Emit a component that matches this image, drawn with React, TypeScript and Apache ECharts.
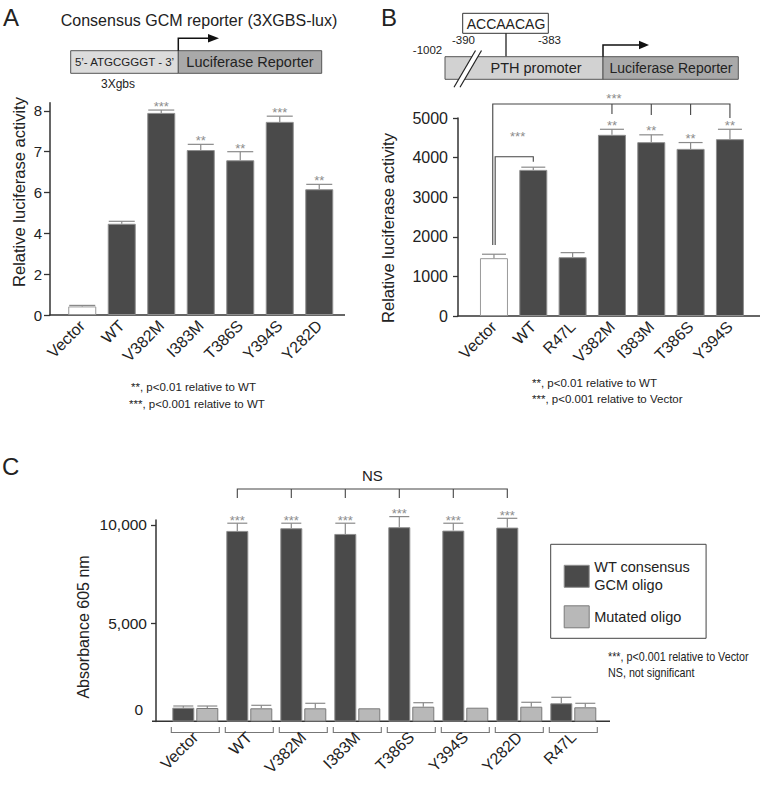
import React, { useEffect, useRef } from "react";
import * as echarts from "echarts";

const FONT = "'Liberation Sans', Arial, Helvetica, sans-serif";

// ---------- Panel A: Consensus GCM reporter ----------
const catsA = ["Vector", "WT", "V382M", "I383M", "T386S", "Y394S", "Y282D"];
const valsA = [0.42, 4.47, 7.95, 7.04, 6.79, 7.73, 6.08];
const errA = [0.05, 0.12, 0.07, 0.14, 0.21, 0.14, 0.12];
const starsA = ["", "", "***", "**", "**", "***", "**"];
const ticksA = [0, 2, 4, 6, 7, 8];

// ---------- Panel B: PTH promoter reporter ----------
const catsB = ["Vector", "WT", "R47L", "V382M", "I383M", "T386S", "Y394S"];
const valsB = [1460, 3690, 1485, 4575, 4390, 4220, 4465];
const errB = [100, 68, 115, 140, 185, 160, 250];
const starsB = ["", "", "", "**", "**", "**", "**"];

// ---------- Panel C: absorbance ----------
const catsC = ["Vector", "WT", "V382M", "I383M", "T386S", "Y394S", "Y282D", "R47L"];
const nameWT = "WT consensus\nGCM oligo";
const nameMut = "Mutated oligo";
const wtC = [707, 9695, 9832, 9542, 9883, 9710, 9863, 931];
const wtErrC = [86, 392, 255, 545, 539, 376, 473, 305];
const mutC = [692, 676, 676, 676, 758, 707, 758, 727];
const mutErrC = [100, 153, 255, 0, 203, 0, 224, 204];
const starsC = ["", "***", "***", "***", "***", "***", "***", ""];
const ticksC = [5000, 10000];

// piecewise (broken) scale of panel A: 0-6 compressed by 2, 6-8 full
const toA = (v: number) => (v <= 6 ? v / 2 : 3 + (v - 6));
const fromA = (d: number) => (d <= 3 ? d * 2 : 6 + (d - 3));

const DARK = "#4a4a4a";
const DARK_BORDER = "#8e8e8e";
const LIGHT = "#b8b8b8";
const LIGHT_BORDER = "#7a7a7a";
const ERR = "#8a8a8a";
const INK = "#222";
const STAR = "#8c8c8c";

function errSeries(
  xi: number,
  tops: number[],
  vals: number[],
  stars: string[],
  offset: number,
  capW: number,
  starGap: number
) {
  return {
    type: "custom",
    xAxisIndex: xi,
    yAxisIndex: xi,
    z: 5,
    silent: true,
    data: tops.map((t, i) => [i, t, vals[i]]),
    renderItem: (params: any, api: any) => {
      const i = api.value(0);
      const t = api.value(1);
      const v = api.value(2);
      const top = api.coord([i, t]);
      const base = api.coord([i, v]);
      const x = top[0] + offset;
      const children: any[] = [];
      if (t > v) {
        children.push({
          type: "line",
          shape: { x1: x, y1: base[1], x2: x, y2: top[1] },
          style: { stroke: ERR, lineWidth: 1.2 },
        });
        children.push({
          type: "line",
          shape: { x1: x - capW / 2, y1: top[1], x2: x + capW / 2, y2: top[1] },
          style: { stroke: ERR, lineWidth: 1.2 },
        });
      }
      const s = stars[params.dataIndex];
      if (s) {
        children.push({
          type: "text",
          x,
          y: top[1] - starGap,
          style: { text: s, fill: STAR, font: `13px ${FONT}`, align: "center", verticalAlign: "middle" },
        });
      }
      return { type: "group", children };
    },
  };
}

const txt = (
  text: string,
  x: number,
  y: number,
  size: number,
  align: string = "center",
  extra: any = {}
) => ({
  type: "text",
  x,
  y,
  silent: true,
  style: { text, fill: INK, font: `${size}px ${FONT}`, align, verticalAlign: "middle" },
  ...(extra.rotation ? { rotation: extra.rotation } : {}),
  ...(extra.scaleX ? { scaleX: extra.scaleX } : {}),
});

const hline = (x1: number, y1: number, x2: number, y2: number, color = "#333", w = 1.5) => ({
  type: "line",
  silent: true,
  shape: { x1, y1, x2, y2 },
  style: { stroke: color, lineWidth: w },
});

const poly = (points: number[][], color = "#444", w = 1.1) => ({
  type: "polyline",
  silent: true,
  shape: { points },
  style: { stroke: color, lineWidth: w, fill: "none" },
});

const box = (x: number, y: number, w: number, h: number, fill: string, stroke = "#555") => ({
  type: "rect",
  silent: true,
  shape: { x, y, width: w, height: h },
  style: { fill, stroke, lineWidth: 1 },
});

function staticGraphics() {
  const g: any[] = [];
  // ----- A -----
  g.push(txt("A", 3, 17, 24, "left"));
  g.push(txt("Consensus GCM reporter (3XGBS-lux)", 199, 20, 16));
  g.push(box(70.7, 50.7, 107.6, 22.6, "#dcdcdc"));
  g.push(box(178.3, 50.7, 143.4, 22.6, "#a9a9a9"));
  g.push(txt("5\u2019- ATGCGGGT - 3\u2019", 124.5, 62, 11.5));
  g.push(txt("Luciferase Reporter", 250, 62, 14.5));
  g.push(poly([[178.3, 50.7], [178.3, 38.3], [210, 38.3]], "#111", 1.5));
  g.push({ type: "polygon", silent: true, shape: { points: [[208, 34], [219, 38.3], [208, 42.6]] }, style: { fill: "#111" } });
  g.push(txt("3Xgbs", 118, 83.5, 12));
  g.push(txt("Relative luciferase activity", 18.5, 192, 16.5, "center", { rotation: Math.PI / 2 }));
  g.push(hline(49.3, 315, 345, 315));
  g.push(txt("**, p<0.01 relative to WT", 131, 387, 11.5, "left"));
  g.push(txt("***, p<0.001 relative to WT", 129, 404, 11.5, "left"));

  // ----- B -----
  g.push(txt("B", 381, 17, 24, "left"));
  g.push(box(462.7, 13.3, 85.6, 20, "#fff", "#333"));
  g.push(txt("ACCAACAG", 506, 23.5, 14));
  g.push(hline(506, 33.3, 506, 56.7, "#222", 1.3));
  g.push(txt("-390", 463.5, 40, 11.5));
  g.push(txt("-383", 549.5, 40, 11.5));
  g.push(txt("-1002", 427.5, 50, 11.5));
  g.push(box(445, 56.7, 158, 22.6, "#d2d2d2"));
  g.push(box(603, 56.7, 135.3, 22.6, "#a9a9a9"));
  g.push(txt("PTH promoter", 536, 68.2, 14.5));
  g.push(txt("Luciferase Reporter", 671, 68.2, 14));
  g.push({ type: "polygon", silent: true, shape: { points: [[454, 87.3], [475.5, 50.5], [481.5, 50.5], [460, 87.3]] }, style: { fill: "#fff" } });
  g.push(hline(454, 87.3, 475.5, 50.5, "#222", 1.2));
  g.push(hline(460, 87.3, 481.5, 50.5, "#222", 1.2));
  g.push(poly([[603, 56.7], [603, 45], [641, 45]], "#111", 1.5));
  g.push({ type: "polygon", silent: true, shape: { points: [[639, 40.7], [649, 45], [639, 49.3]] }, style: { fill: "#111" } });
  g.push(txt("Relative luciferase activity", 388, 228, 16.5, "center", { rotation: Math.PI / 2 }));
  g.push(hline(457.3, 316, 760, 316));
  g.push(txt("**, p<0.01 relative to WT", 532, 383, 11.5, "left"));
  g.push(txt("***, p<0.001 relative to Vector", 532, 399, 11.5, "left"));

  // ----- C -----
  g.push(txt("C", 2, 466, 24, "left"));
  g.push(txt("Absorbance 605 nm", 83, 627, 16, "center", { rotation: Math.PI / 2 }));
  g.push(txt("0", 143, 709, 15.5, "right"));
  g.push(hline(152, 721.3, 610, 721.3));
  g.push(txt("***, p<0.001 relative to Vector", 608, 656, 12.5, "left", { scaleX: 0.86 }));
  g.push(txt("NS, not significant", 608, 672, 12.5, "left", { scaleX: 0.86 }));
  return g;
}

function bracketGraphics(chart: any) {
  const g: any[] = [];
  const px = (grid: number, i: number) => chart.convertToPixel({ gridIndex: grid }, [i, 0])[0];
  const star = (s: string, x: number, y: number) => ({
    type: "text",
    x,
    y,
    silent: true,
    style: { text: s, fill: STAR, font: `13px ${FONT}`, align: "center", verticalAlign: "middle" },
  });
  // ----- B brackets -----
  const bx = catsB.map((_, i) => px(1, i));
  const yBig = 104;
  g.push(poly([[bx[0] - 1.2, 245], [bx[0] - 1.2, yBig], [bx[6], yBig], [bx[6], 118]]));
  g.push(hline(bx[3], yBig, bx[3], 114, "#444", 1.1));
  g.push(hline(bx[4], yBig, bx[4], 115, "#444", 1.1));
  g.push(hline(bx[5], yBig, bx[5], 115, "#444", 1.1));
  g.push(star("***", (bx[0] + bx[6]) / 2 + 2, 98));
  g.push(poly([[bx[0] + 1.2, 245], [bx[0] + 1.2, 156.7], [bx[1], 156.7], [bx[1], 161.7]]));
  g.push(star("***", (bx[0] + bx[1]) / 2 + 4, 136));

  // ----- C brackets -----
  const cx = catsC.map((_, i) => px(2, i));
  const dark = cx.map((x) => x - 12);
  g.push(poly([[dark[1], 498], [dark[1], 489], [dark[6], 489], [dark[6], 498]]));
  for (let i = 2; i <= 5; i++) g.push(hline(dark[i], 489, dark[i], 498, "#444", 1.1));
  g.push(txt("NS", (dark[1] + dark[6]) / 2, 475, 15));
  cx.forEach((x) => {
    g.push(poly([[x - 24, 727], [x - 24, 732.5], [x + 24, 732.5], [x + 24, 727]], "#777", 1.1));
  });
  return g;
}

const catAxis = (gridIndex: number, data: string[], margin: number) => ({
  gridIndex,
  type: "category",
  data,
  axisLine: { show: false },
  axisTick: { show: false },
  splitLine: { show: false },
  axisLabel: { rotate: 45, fontSize: 16, color: INK, fontFamily: FONT, margin, interval: 0 },
});

const axisLine = { show: true, lineStyle: { color: "#333", width: 1.5 } };

export default function App() {
  const ref = useRef<HTMLDivElement>(null);
  useEffect(() => {
    if (!ref.current) return;
    const chart = echarts.init(ref.current, undefined, { renderer: "svg" });
    const ticksAd = ticksA.map(toA);
    const option: any = {
      animation: false,
      backgroundColor: "#fff",
      textStyle: { fontFamily: FONT },
      grid: [
        { left: 62.5, top: 102.7, width: 276.5, height: 212.3 },
        { left: 474.3, top: 118, width: 275.3, height: 198 },
        { left: 168.3, top: 520, width: 432, height: 201.6 },
      ],
      legend: {
        data: [
          { name: nameWT, icon: "rect", itemStyle: { color: DARK, borderColor: DARK_BORDER, borderWidth: 1 } },
          { name: nameMut, icon: "rect", itemStyle: { color: LIGHT, borderColor: LIGHT_BORDER, borderWidth: 1 } },
        ],
        orient: "vertical",
        left: 550.7,
        top: 544.3,
        itemWidth: 25,
        itemHeight: 22,
        itemGap: 11,
        padding: [14, 16, 10, 13],
        borderColor: "#444",
        borderWidth: 1,
        selectedMode: false,
        textStyle: { fontSize: 14.5, color: INK, fontFamily: FONT, lineHeight: 18 },
      },
      xAxis: [catAxis(0, catsA, 8), catAxis(1, catsB, 8), catAxis(2, catsC, 13)],
      yAxis: [
        {
          gridIndex: 0,
          type: "value",
          min: 0,
          max: toA(8) + 0.2,
          offset: 12.5,
          axisLine,
          splitLine: { show: false },
          axisTick: { show: true, length: 6, customValues: ticksAd, lineStyle: { color: "#333", width: 1.3 } },
          axisLabel: {
            customValues: ticksAd,
            formatter: (v: number) => String(Math.round(fromA(v))),
            fontSize: 15,
            color: INK,
            margin: 8,
          },
        },
        {
          gridIndex: 1,
          type: "value",
          min: 0,
          max: 5000,
          interval: 1000,
          offset: 16.3,
          axisLine,
          splitLine: { show: false },
          axisTick: { show: true, length: 5, lineStyle: { color: "#333", width: 1.3 } },
          axisLabel: { fontSize: 16, color: INK, margin: 10, formatter: (v: number) => String(v) },
        },
        {
          gridIndex: 2,
          type: "value",
          min: 0,
          max: 10250,
          offset: 12.3,
          axisLine,
          splitLine: { show: false },
          axisTick: { show: true, length: 5, customValues: ticksC, lineStyle: { color: "#333", width: 1.3 } },
          axisLabel: {
            customValues: ticksC,
            formatter: (v: number) => v.toLocaleString("en-US"),
            fontSize: 15.5,
            color: INK,
            margin: 9,
          },
        },
      ],
      series: [
        {
          type: "bar",
          name: "A",
          xAxisIndex: 0,
          yAxisIndex: 0,
          barWidth: 28,
          itemStyle: { color: DARK, borderColor: DARK_BORDER, borderWidth: 1 },
          data: valsA.map((v, i) => ({
            value: toA(v),
            itemStyle: i === 0 ? { color: "#fff", borderColor: "#999" } : undefined,
          })),
        },
        errSeries(0, valsA.map((v, i) => toA(v + errA[i])), valsA.map(toA), starsA, 0, 26, 3.5),
        {
          type: "bar",
          name: "B",
          xAxisIndex: 1,
          yAxisIndex: 1,
          barWidth: 28,
          itemStyle: { color: DARK, borderColor: DARK_BORDER, borderWidth: 1 },
          data: valsB.map((v, i) => ({
            value: v,
            itemStyle: i === 0 ? { color: "#fff", borderColor: "#999" } : undefined,
          })),
        },
        errSeries(1, valsB.map((v, i) => v + errB[i]), valsB, starsB, 0, 24, 4),
        {
          type: "bar",
          name: nameWT,
          xAxisIndex: 2,
          yAxisIndex: 2,
          barWidth: 22,
          barGap: "9%",
          itemStyle: { color: DARK, borderColor: DARK_BORDER, borderWidth: 1 },
          data: wtC,
        },
        {
          type: "bar",
          name: nameMut,
          xAxisIndex: 2,
          yAxisIndex: 2,
          barWidth: 22,
          barGap: "9%",
          itemStyle: { color: LIGHT, borderColor: LIGHT_BORDER, borderWidth: 1 },
          data: mutC,
        },
        errSeries(2, wtC.map((v, i) => v + wtErrC[i]), wtC, starsC, -12, 20, 3),
        errSeries(2, mutC.map((v, i) => v + mutErrC[i]), mutC, mutC.map(() => ""), 12, 20, 3),
      ],
    };
    chart.setOption(option);
    chart.setOption({ graphic: { elements: [...staticGraphics(), ...bracketGraphics(chart)] } });
    return () => chart.dispose();
  }, []);
  return (
    <div
      ref={ref}
      style={{ position: "absolute", left: 0, top: 0, width: 762, height: 788, background: "#fff" }}
    />
  );
}
